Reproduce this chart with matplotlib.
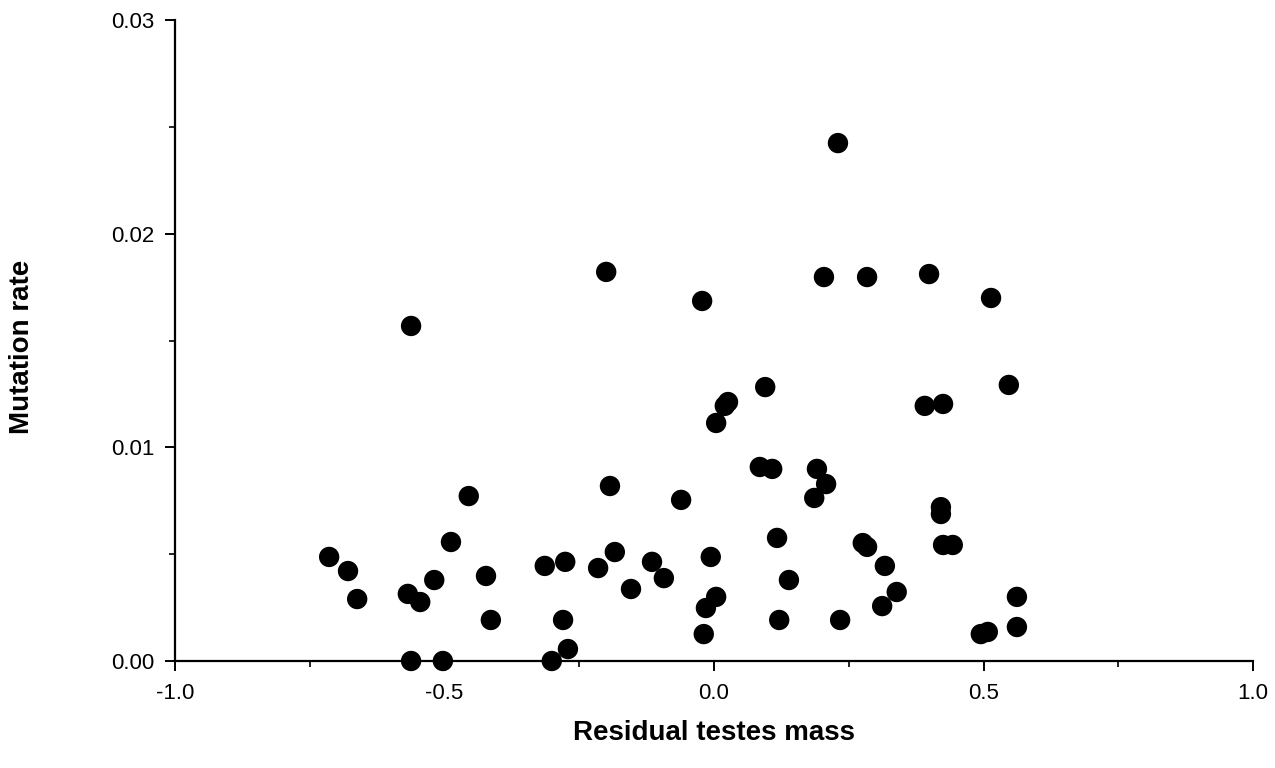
import matplotlib
matplotlib.use("Agg")
import matplotlib.pyplot as plt
from matplotlib.ticker import MultipleLocator

plt.rcParams['font.family'] = ['Liberation Sans', 'DejaVu Sans']
plt.rcParams['axes.unicode_minus'] = False

residual_testes_mass = [
    -0.714, -0.679, -0.662, -0.568, -0.545, -0.519, -0.488, -0.455, -0.562, -0.562,
    -0.503, -0.423, -0.414, -0.314, -0.276, -0.280, -0.271, -0.301, -0.215, -0.184,
    -0.200, -0.193, -0.154, -0.115, -0.093, -0.061, -0.022, -0.006, -0.015, -0.019,
    0.004, 0.004, 0.020, 0.026, 0.095, 0.085, 0.108, 0.117, 0.121, 0.139,
    0.230, 0.204, 0.186, 0.191, 0.208, 0.234, 0.284, 0.276, 0.284, 0.317,
    0.312, 0.339, 0.399, 0.391, 0.425, 0.421, 0.421, 0.425, 0.443, 0.514,
    0.547, 0.562, 0.562, 0.495, 0.508,
]
mutation_rate = [
    0.00487, 0.00421, 0.00290, 0.00314, 0.00276, 0.00379, 0.00557, 0.00772, 0.01568, 0.0,
    0.0, 0.00398, 0.00192, 0.00445, 0.00464, 0.00192, 0.00056, 0.0, 0.00435, 0.00510,
    0.01821, 0.00819, 0.00337, 0.00464, 0.00388, 0.00754, 0.01685, 0.00487, 0.00248, 0.00126,
    0.00300, 0.01114, 0.01194, 0.01212, 0.01282, 0.00908, 0.00899, 0.00576, 0.00192, 0.00379,
    0.02424, 0.01797, 0.00763, 0.00899, 0.00828, 0.00192, 0.01797, 0.00552, 0.00534, 0.00445,
    0.00257, 0.00323, 0.01811, 0.01194, 0.01203, 0.00720, 0.00688, 0.00543, 0.00543, 0.01699,
    0.01292, 0.00300, 0.00159, 0.00126, 0.00136,
]

x_ticks = [-1.0, -0.5, 0.0, 0.5, 1.0]
x_tick_labels = ["-1.0", "-0.5", "0.0", "0.5", "1.0"]
y_ticks = [0.0, 0.01, 0.02, 0.03]
y_tick_labels = ["0.00", "0.01", "0.02", "0.03"]

fig = plt.figure(figsize=(12.75, 7.68), dpi=100)
ax = fig.add_axes([175/1275, 107/768, (1253-175)/1275, (661-20)/768])

ax.scatter(residual_testes_mass, mutation_rate, s=215, color='black',
           edgecolors='none', zorder=3, clip_on=False)

ax.set_xlim(-1.0, 1.0)
ax.set_ylim(0.0, 0.03)
ax.set_xticks(x_ticks)
ax.set_xticklabels(x_tick_labels)
ax.set_yticks(y_ticks)
ax.set_yticklabels(y_tick_labels)
ax.xaxis.set_minor_locator(MultipleLocator(0.25))
ax.yaxis.set_minor_locator(MultipleLocator(0.005))

for s in ['top', 'right']:
    ax.spines[s].set_visible(False)
for s in ['left', 'bottom']:
    ax.spines[s].set_linewidth(1.6)
    ax.spines[s].set_color('black')

ax.tick_params(axis='both', which='major', direction='out', length=7.5, width=1.4,
               labelsize=16, colors='black')
ax.tick_params(axis='y', which='major', pad=7)
ax.tick_params(axis='x', which='major', pad=8.5)
ax.tick_params(axis='both', which='minor', direction='out', length=4, width=1.2)

ax.set_xlabel("Residual testes mass", fontsize=20, fontweight='bold')
ax.set_ylabel("Mutation rate", fontsize=20, fontweight='bold')
ax.xaxis.set_label_coords(0.5, (661 - 733) / 641)
ax.xaxis.label.set_va('center')
ax.yaxis.set_label_coords((22 - 175) / 1078, 0.49)
ax.yaxis.label.set_va('center')

fig.savefig("out.png", dpi=100, facecolor='white')
